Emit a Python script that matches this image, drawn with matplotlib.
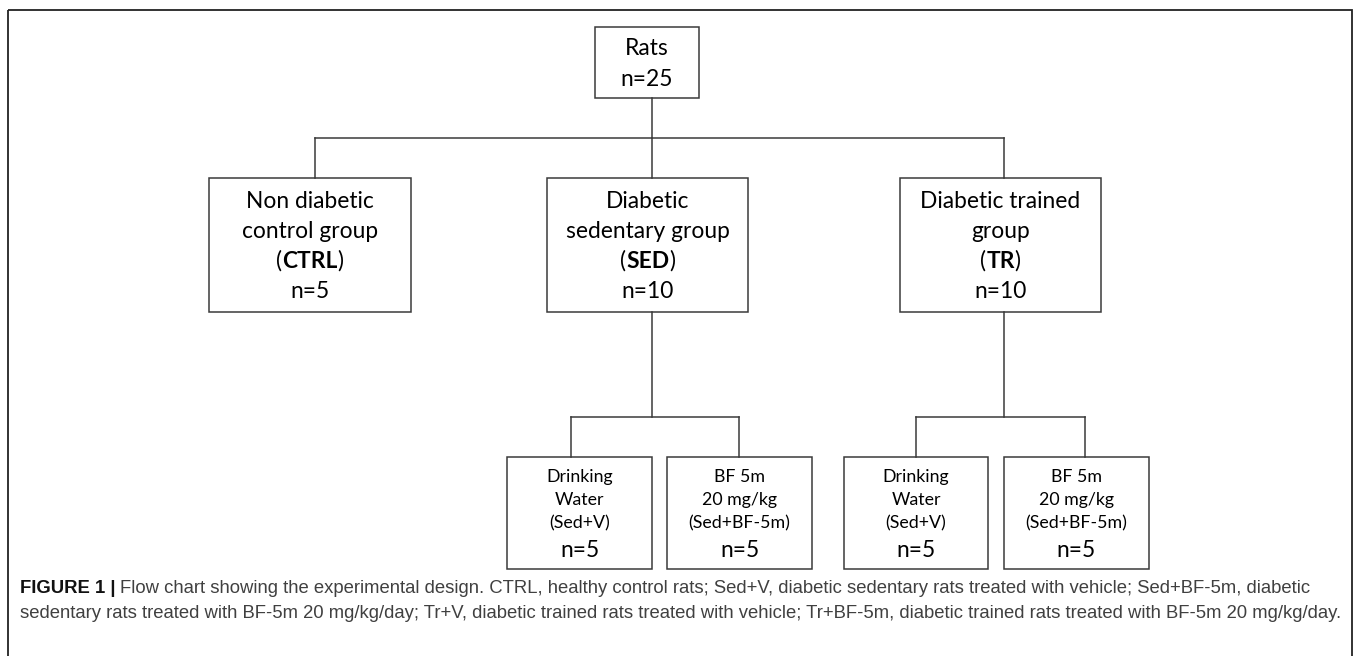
import matplotlib
matplotlib.use('Agg')
import matplotlib.pyplot as plt
from matplotlib.patches import Rectangle

# ---- content ----
root_label = ['Rats', 'n=25']
group_labels = [
    [[('Non diabetic', 'normal')], [('control group', 'normal')],
     [('(', 'normal'), ('CTRL', 'bold'), (')', 'normal')], [('n=5', 'normal')]],
    [[('Diabetic', 'normal')], [('sedentary group', 'normal')],
     [('(', 'normal'), ('SED', 'bold'), (')', 'normal')], [('n=10', 'normal')]],
    [[('Diabetic trained', 'normal')], [('group', 'normal')],
     [('(', 'normal'), ('TR', 'bold'), (')', 'normal')], [('n=10', 'normal')]],
]
sub_labels = [
    ['Drinking', 'Water', '(Sed+V)'],
    ['BF 5m', '20 mg/kg', '(Sed+BF-5m)'],
    ['Drinking', 'Water', '(Sed+V)'],
    ['BF 5m', '20 mg/kg', '(Sed+BF-5m)'],
]
sub_n = ['n=5', 'n=5', 'n=5', 'n=5']
caption_bold = 'FIGURE 1 |'
caption_lines = [
    'Flow chart showing the experimental design. CTRL, healthy control rats; Sed+V, diabetic sedentary rats treated with vehicle; Sed+BF-5m, diabetic',
    'sedentary rats treated with BF-5m 20 mg/kg/day; Tr+V, diabetic trained rats treated with vehicle; Tr+BF-5m, diabetic trained rats treated with BF-5m 20 mg/kg/day.',
]

# ---- layout (pixel units, y downwards) ----
W, H = 1358, 656
root_box = (595, 27, 699, 98)
root_base = [55, 86]
group_boxes = [(209, 178, 411, 312), (547, 178, 748, 312), (900, 178, 1101, 312)]
group_drop = [315, 652, 1004]
group_base = [208, 238, 268, 298]
bus_y = 138
sub_boxes = [(507, 457, 652, 569), (667, 457, 812, 569),
             (844, 457, 988, 569), (1004, 457, 1149, 569)]
sub_drop = [571, 739, 916, 1085]
sub_bus_y = 417
sub_base = [482, 505, 528, 557]
cap_x = 20
cap_base = [593, 618]

box_font = 'Lato'
cap_font = 'Liberation Sans'
line_col = '#3a3a3a'
cap_col = '#404040'

fig = plt.figure(figsize=(W / 100, H / 100), dpi=100)
ax = fig.add_axes([0, 0, 1, 1])
ax.set_xlim(0, W)
ax.set_ylim(H, 0)
ax.axis('off')
renderer = fig.canvas.get_renderer()


def box(b):
    x0, y0, x1, y1 = b
    ax.add_patch(Rectangle((x0, y0), x1 - x0, y1 - y0, fill=False,
                           edgecolor=line_col, linewidth=1.1))


def rich(x, y, parts, size, family, color='black', center=True):
    # draw segments of mixed weight on one baseline
    items = []
    for s, w in parts:
        t = ax.text(0, y, s, fontsize=size, fontweight=w, family=family,
                    color=color, va='baseline', ha='left')
        items.append((t, t.get_window_extent(renderer).width))
    total = sum(w for _, w in items)
    pos = x - total / 2 if center else x
    for t, w in items:
        t.set_x(pos)
        pos += w
    return pos


# outer frame (bottom edge off the canvas)
ax.add_patch(Rectangle((8, 10), 1344, 660, fill=False, edgecolor='#222222', linewidth=1.3))

# root
box(root_box)
rx = (root_box[0] + root_box[2]) / 2
for s, yb in zip(root_label, root_base):
    ax.text(rx, yb, s, fontsize=16.4, family=box_font, ha='center', va='baseline')

# first level connectors
ax.plot([group_drop[1], group_drop[1]], [root_box[3], bus_y], color=line_col, lw=1.1)
ax.plot([group_drop[0], group_drop[-1]], [bus_y, bus_y], color=line_col, lw=1.1)
for gx, b in zip(group_drop, group_boxes):
    ax.plot([gx, gx], [bus_y, b[1]], color=line_col, lw=1.1)

# group boxes
for b, lines in zip(group_boxes, group_labels):
    box(b)
    cx = (b[0] + b[2]) / 2
    for parts, yb in zip(lines, group_base):
        rich(cx, yb, parts, 16.4, box_font)

# second level connectors
for i in (1, 2):
    gx = group_drop[i]
    ax.plot([gx, gx], [group_boxes[i][3], sub_bus_y], color=line_col, lw=1.1)
    l, r = sub_drop[2 * (i - 1)], sub_drop[2 * (i - 1) + 1]
    ax.plot([l, r], [sub_bus_y, sub_bus_y], color=line_col, lw=1.1)
    for sx in (l, r):
        ax.plot([sx, sx], [sub_bus_y, sub_boxes[0][1]], color=line_col, lw=1.1)

# sub boxes
for b, lines, n in zip(sub_boxes, sub_labels, sub_n):
    box(b)
    cx = (b[0] + b[2]) / 2
    for s, yb in zip(lines, sub_base[:3]):
        ax.text(cx, yb, s, fontsize=12.8, family=box_font, ha='center', va='baseline')
    ax.text(cx, sub_base[3], n, fontsize=16.4, family=box_font, ha='center', va='baseline')

# caption
end = rich(cap_x, cap_base[0], [(caption_bold, 'bold')], 13.3, cap_font, color='#111111', center=False)
ax.text(end + 4, cap_base[0], caption_lines[0], fontsize=13.3, family=cap_font,
        color=cap_col, va='baseline', ha='left')
ax.text(cap_x, cap_base[1], caption_lines[1], fontsize=13.3, family=cap_font,
        color=cap_col, va='baseline', ha='left')

fig.savefig('out.png', dpi=100)
